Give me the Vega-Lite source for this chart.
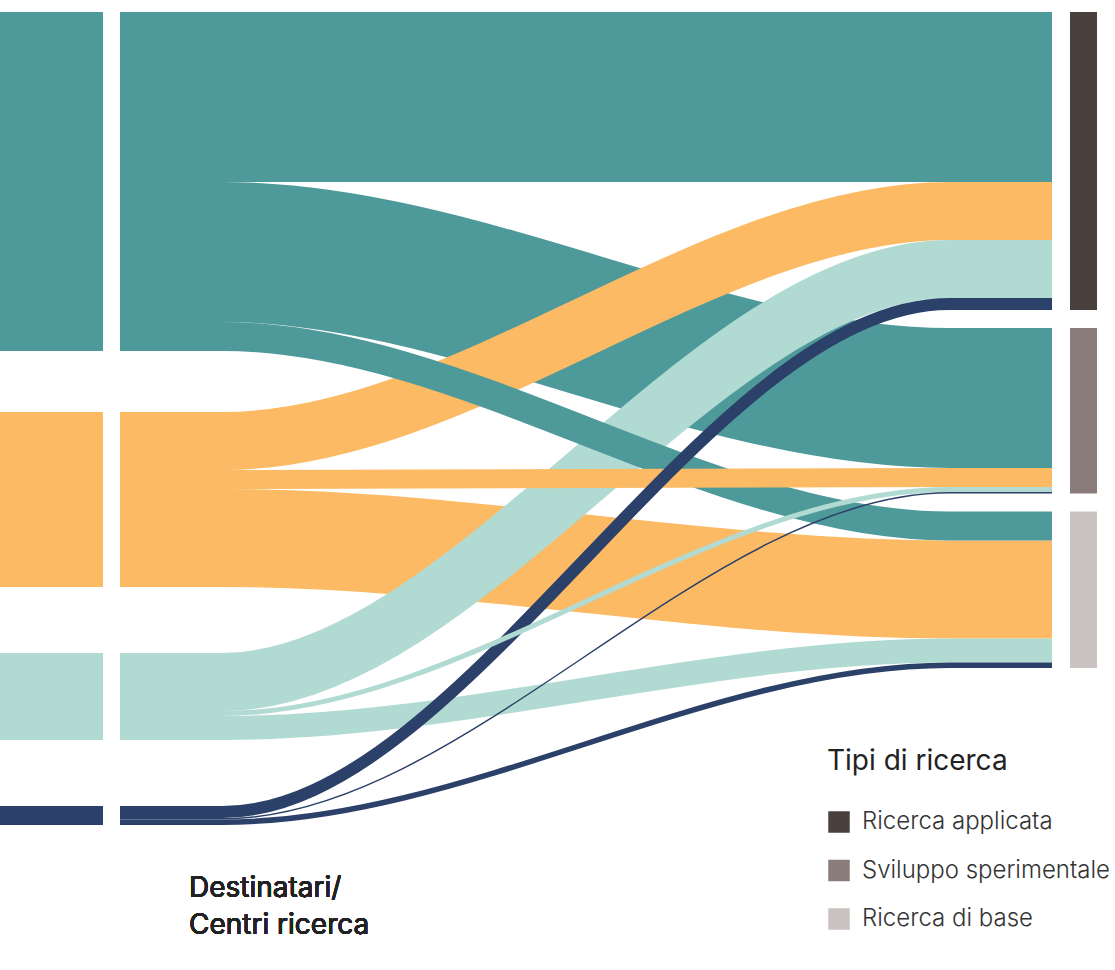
{
  "$schema": "https://vega.github.io/schema/vega-lite/v6.json",
  "width": 1115,
  "height": 970,
  "padding": 0,
  "autosize": {"type": "none"},
  "background": "white",
  "config": {"view": {"stroke": null}},
  "data": {
    "values": [
      {"source": "Centro 1", "target": "Ricerca applicata", "value": 170},
      {"source": "Centro 1", "target": "Sviluppo sperimentale", "value": 140},
      {"source": "Centro 2", "target": "Ricerca di base", "value": 98},
      {"source": "Centro 2", "target": "Ricerca applicata", "value": 58},
      {"source": "Centro 3", "target": "Ricerca applicata", "value": 58},
      {"source": "Centro 1", "target": "Ricerca di base", "value": 29},
      {"source": "Centro 3", "target": "Ricerca di base", "value": 24},
      {"source": "Centro 2", "target": "Sviluppo sperimentale", "value": 19},
      {"source": "Centro 4", "target": "Ricerca applicata", "value": 12},
      {"source": "Centro 4", "target": "Ricerca di base", "value": 5.5},
      {"source": "Centro 3", "target": "Sviluppo sperimentale", "value": 5},
      {"source": "Centro 4", "target": "Sviluppo sperimentale", "value": 1.5}
    ]
  },
  "layer": [
    {
      "transform": [
        {"calculate": "indexof(['Centro 1','Centro 2','Centro 3','Centro 4'], datum.source)", "as": "si"},
        {"calculate": "indexof(['Ricerca applicata','Sviluppo sperimentale','Ricerca di base'], datum.target)", "as": "ti"},
        {"stack": "value", "groupby": [], "sort": [{"field": "si", "order": "ascending"}, {"field": "ti", "order": "ascending"}], "as": ["l0", "l1"]},
        {"stack": "value", "groupby": [], "sort": [{"field": "ti", "order": "ascending"}, {"field": "si", "order": "ascending"}], "as": ["r0", "r1"]},
        {"calculate": "(datum.l0 + datum.l1) / 2 + [12, 73, 139, 205][datum.si]", "as": "yl"},
        {"calculate": "(datum.r0 + datum.r1) / 2 + 12 + 18 * datum.ti", "as": "yr"},
        {"calculate": "datum.yl", "as": "yl_b"},
        {"calculate": "datum.yr", "as": "yr_b"},
        {"fold": ["yl", "yl_b", "yr_b", "yr"], "as": ["pt", "y"]},
        {"calculate": "[0, 0.11, 0.89, 1][indexof(['yl', 'yl_b', 'yr_b', 'yr'], datum.pt)]", "as": "x"}
      ],
      "mark": {"type": "line", "interpolate": "monotone", "strokeCap": "butt", "opacity": 1},
      "encoding": {
        "x": {"field": "x", "type": "quantitative", "scale": {"domain": [-0.128755, 1.067597], "nice": false, "zero": false}, "axis": null},
        "y": {"field": "y", "type": "quantitative", "scale": {"domain": [0, 970], "nice": false, "zero": false, "reverse": true}, "axis": null},
        "color": {"field": "source", "type": "nominal", "scale": {"domain": ["Centro 1", "Centro 2", "Centro 3", "Centro 4"], "range": ["#4E9A9B", "#FBBA63", "#B1DBD2", "#2C4169"]}, "legend": null},
        "strokeWidth": {"field": "value", "type": "quantitative", "scale": {"domain": [0, 100], "range": [0, 100]}, "legend": null},
        "detail": {"field": "target"}
      }
    },
    {
      "transform": [
        {"calculate": "indexof(['Centro 1','Centro 2','Centro 3','Centro 4'], datum.source)", "as": "si"},
        {"aggregate": [{"op": "sum", "field": "value", "as": "total"}], "groupby": ["source", "si"]},
        {"stack": "total", "groupby": [], "sort": [{"field": "si", "order": "ascending"}], "as": ["n0", "n1"]},
        {"calculate": "datum.n0 + [12, 73, 139, 205][datum.si]", "as": "y0"},
        {"calculate": "datum.n1 + [12, 73, 139, 205][datum.si]", "as": "y1"}
      ],
      "mark": {"type": "rect"},
      "encoding": {
        "x": {"datum": -0.128755, "type": "quantitative", "scale": {"domain": [-0.128755, 1.067597], "nice": false, "zero": false}, "axis": null},
        "x2": {"datum": -0.01824},
        "y": {"field": "y0", "type": "quantitative", "scale": {"domain": [0, 970], "nice": false, "zero": false, "reverse": true}, "axis": null},
        "y2": {"field": "y1"},
        "color": {"field": "source", "type": "nominal", "scale": {"domain": ["Centro 1", "Centro 2", "Centro 3", "Centro 4"], "range": ["#4E9A9B", "#FBBA63", "#B1DBD2", "#2C4169"]}, "legend": null}
      }
    },
    {
      "transform": [
        {"calculate": "indexof(['Ricerca applicata','Sviluppo sperimentale','Ricerca di base'], datum.target)", "as": "ti"},
        {"aggregate": [{"op": "sum", "field": "value", "as": "total"}], "groupby": ["target", "ti"]},
        {"stack": "total", "groupby": [], "sort": [{"field": "ti", "order": "ascending"}], "as": ["n0", "n1"]},
        {"calculate": "datum.n0 + 12 + 18 * datum.ti", "as": "y0"},
        {"calculate": "datum.n1 + 12 + 18 * datum.ti", "as": "y1"}
      ],
      "mark": {"type": "rect"},
      "encoding": {
        "x": {"datum": 1.019313, "type": "quantitative", "scale": {"domain": [-0.128755, 1.067597], "nice": false, "zero": false}, "axis": null},
        "x2": {"datum": 1.048283},
        "y": {"field": "y0", "type": "quantitative", "scale": {"domain": [0, 970], "nice": false, "zero": false, "reverse": true}, "axis": null},
        "y2": {"field": "y1"},
        "color": {
          "field": "target",
          "type": "nominal",
          "scale": {"domain": ["Ricerca applicata", "Sviluppo sperimentale", "Ricerca di base"], "range": ["#4A403D", "#8A7C7A", "#CBC3C1"]},
          "legend": {
            "title": "Tipi di ricerca",
            "orient": "none",
            "legendX": 827,
            "legendY": 748,
            "padding": 0,
            "symbolType": "square",
            "symbolSize": 462,
            "symbolStrokeWidth": 0,
            "symbolOpacity": 1,
            "labelFont": "Inter",
            "labelFontSize": 24,
            "labelFontWeight": 300,
            "labelColor": "#333333",
            "labelOffset": 11,
            "labelLimit": 400,
            "rowPadding": 24.5,
            "titleFont": "Inter",
            "titleFontSize": 28,
            "titleFontWeight": 400,
            "titleColor": "#222222",
            "titlePadding": 34,
            "titleLimit": 400
          }
        }
      }
    },
    {
      "mark": {"type": "text", "text": ["Destinatari/", "Centri ricerca"], "align": "left", "baseline": "alphabetic", "font": "Inter", "fontSize": 28, "fontWeight": 400, "color": "#222222", "lineHeight": 37},
      "encoding": {
        "x": {"datum": 0.074034, "type": "quantitative", "scale": {"domain": [-0.128755, 1.067597], "nice": false, "zero": false}, "axis": null},
        "y": {"datum": 897, "type": "quantitative", "scale": {"domain": [0, 970], "nice": false, "zero": false, "reverse": true}, "axis": null}
      }
    }
  ],
  "resolve": {"scale": {"color": "independent"}}
}
